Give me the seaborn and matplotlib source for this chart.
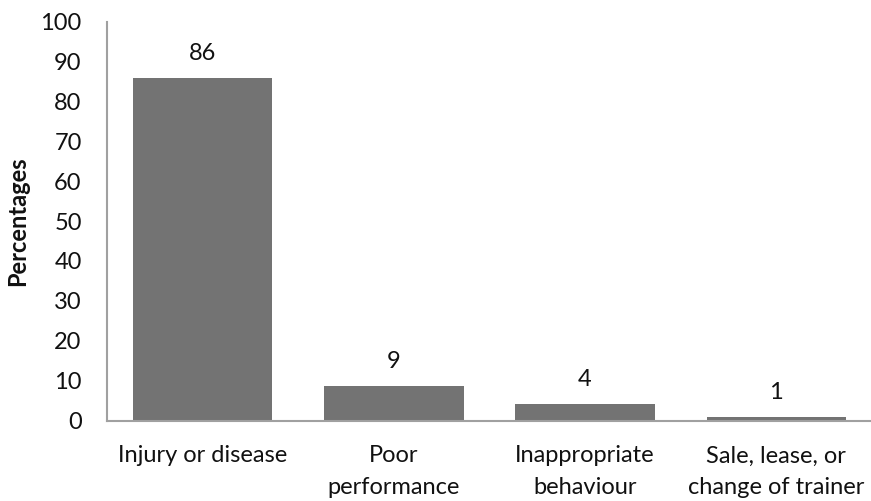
import matplotlib
matplotlib.use("Agg")
import matplotlib.pyplot as plt
import seaborn as sns
import pandas as pd

categories = ["Injury or disease", "Poor\nperformance", "Inappropriate\nbehaviour",
              "Sale, lease, or\nchange of trainer"]
values = [86.0, 8.6, 4.2, 1.0]
yticks = list(range(0, 101, 10))

sns.set_style("white")
plt.rcParams["font.family"] = ["Lato", "DejaVu Sans"]

df = pd.DataFrame({"cat": categories, "val": values})

fig = plt.figure(figsize=(8.71, 5.01), dpi=100)
ax = fig.add_axes([106.7 / 871, (501 - 420.5) / 501, (872 - 106.7) / 871, (420.5 - 21.7) / 501])

sns.barplot(data=df, x="cat", y="val", color="#737373", saturation=1, width=0.73,
            edgecolor="none", ax=ax)

for c in ax.containers:
    ax.bar_label(c, fmt="%.0f", padding=10, fontsize=17, color="#111111")

ax.set_xlim(-0.5, 3.5)
ax.set_ylim(0, 100)
ax.set_yticks(yticks)
ax.set_yticklabels([str(t) for t in yticks], fontsize=17, color="#111111")

ax.set_xticks([-0.5, 0.5, 1.5, 2.5, 3.5])
ax.set_xticklabels([])
ax.set_xticks([0, 1, 2, 3], minor=True)
ax.set_xticklabels(categories, minor=True, fontsize=17, linespacing=1.6, color="#111111")
ax.tick_params(axis="x", which="minor", length=0, pad=18)
ax.tick_params(axis="x", which="major", length=7, width=1.5, color="#a0a0a0", direction="out")
ax.tick_params(axis="y", length=7, width=1.5, color="#a0a0a0", direction="out", pad=11)

ax.set_xlabel("")
ax.set_ylabel("Percentages", fontsize=17, fontweight="bold", labelpad=8, color="#111111")

for s in ["top", "right"]:
    ax.spines[s].set_visible(False)
for s in ["left", "bottom"]:
    ax.spines[s].set_color("#a0a0a0")
    ax.spines[s].set_linewidth(1.5)

fig.savefig("out.png", dpi=100)
